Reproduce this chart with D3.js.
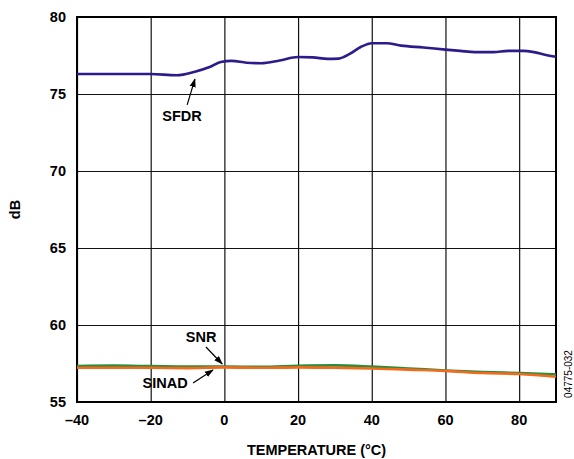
<!DOCTYPE html>
<html>
<head>
<meta charset="utf-8">
<script src="https://cdn.jsdelivr.net/npm/d3@7"></script>
<style>
  body { margin: 0; background: #fff; }
  svg text { font-family: "Liberation Sans", Arial, sans-serif; }
</style>
</head>
<body>
<div id="chart"></div>
<script>
// temperature (°C) -> dB
const sfdrTemp = [-40, -30, -20, -13, -8, -4, -1, 2, 6, 10, 15, 20, 24, 28, 31, 34, 37, 40, 44, 48, 54, 60, 64, 68, 73, 77, 81, 84, 87, 90];
const sfdrDb   = [76.3, 76.3, 76.3, 76.22, 76.45, 76.75, 77.08, 77.15, 77.03, 77.0, 77.18, 77.4, 77.38, 77.28, 77.3, 77.6, 78.05, 78.3, 78.3, 78.14, 78.02, 77.88, 77.8, 77.72, 77.72, 77.8, 77.8, 77.72, 77.55, 77.42];

const lowTemp = [-40, -30, -20, -10, 0, 10, 20, 30, 40, 50, 60, 70, 80, 90];
const snrDb   = [57.33, 57.36, 57.33, 57.3, 57.3, 57.28, 57.35, 57.38, 57.3, 57.18, 57.05, 56.95, 56.88, 56.8];
const sinadDb = [57.22, 57.22, 57.22, 57.2, 57.25, 57.22, 57.25, 57.22, 57.18, 57.1, 57.02, 56.88, 56.82, 56.64];

const xTicks = [-40, -20, 0, 20, 40, 60, 80];
const yTicks = [55, 60, 65, 70, 75, 80];

// callouts: label position and arrow from/to, in data units
const callouts = [
  { text: "SFDR",  tx: -11.5, ty: 73.25, from: [-10.1, 74.29], to: [-8.0, 75.97] },
  { text: "SNR",   tx: -6.3,  ty: 58.9,  from: [-5.0, 58.57],  to: [-0.6, 57.47] },
  { text: "SINAD", tx: -16.1, ty: 55.9,  from: [-8.5, 56.23],  to: [-3.1, 57.08] }
];

const W = 574, H = 459;
const m = { top: 17, right: 18, bottom: 57, left: 77 };

const svg = d3.select("#chart").append("svg")
  .attr("width", W).attr("height", H);

const x = d3.scaleLinear().domain([-40, 90]).range([m.left, W - m.right]);
const y = d3.scaleLinear().domain([55, 80]).range([H - m.bottom, m.top]);

const defs = svg.append("defs");
defs.append("marker")
  .attr("id", "arr").attr("viewBox", "0 0 10 10")
  .attr("refX", 9).attr("refY", 5)
  .attr("markerWidth", 9).attr("markerHeight", 9)
  .attr("markerUnits", "userSpaceOnUse")
  .attr("orient", "auto")
  .append("path").attr("d", "M0,1.5 L10,5 L0,8.5 Z").attr("fill", "#000");

// grid
svg.append("g")
  .attr("transform", `translate(0,${H - m.bottom})`)
  .call(d3.axisBottom(x).tickValues(xTicks).tickSize(-(H - m.top - m.bottom)).tickFormat(""))
  .call(g => g.select(".domain").remove())
  .call(g => g.selectAll("line").attr("stroke", "#111").attr("stroke-width", 1.2));

svg.append("g")
  .attr("transform", `translate(${m.left},0)`)
  .call(d3.axisLeft(y).tickValues(yTicks).tickSize(-(W - m.left - m.right)).tickFormat(""))
  .call(g => g.select(".domain").remove())
  .call(g => g.selectAll("line").attr("stroke", "#111").attr("stroke-width", 1.2));

// tick labels
svg.append("g").selectAll("text").data(xTicks).join("text")
  .attr("x", d => x(d)).attr("y", H - m.bottom + 23)
  .attr("text-anchor", "middle")
  .attr("font-size", 14.5).attr("font-weight", "bold")
  .text(d => d < 0 ? "\u2013" + Math.abs(d) : d);

svg.append("g").selectAll("text").data(yTicks).join("text")
  .attr("x", m.left - 11).attr("y", d => y(d)).attr("dy", "0.36em")
  .attr("text-anchor", "end")
  .attr("font-size", 14.5).attr("font-weight", "bold")
  .text(d => d);

// frame
svg.append("rect")
  .attr("x", m.left).attr("y", m.top)
  .attr("width", W - m.left - m.right).attr("height", H - m.top - m.bottom)
  .attr("fill", "none").attr("stroke", "#000").attr("stroke-width", 2);

const line = d3.line().curve(d3.curveMonotoneX);

svg.append("path")
  .attr("d", line(sfdrTemp.map((t, i) => [x(t), y(sfdrDb[i])])))
  .attr("fill", "none").attr("stroke", "#2e1a8a").attr("stroke-width", 2.6);

svg.append("path")
  .attr("d", line(lowTemp.map((t, i) => [x(t), y(snrDb[i])])))
  .attr("fill", "none").attr("stroke", "#2b8c3c").attr("stroke-width", 2.6);

svg.append("path")
  .attr("d", line(lowTemp.map((t, i) => [x(t), y(sinadDb[i])])))
  .attr("fill", "none").attr("stroke", "#f26b1d").attr("stroke-width", 2.6);

// callouts
const cg = svg.append("g");
cg.selectAll("line").data(callouts).join("line")
  .attr("x1", d => x(d.from[0])).attr("y1", d => y(d.from[1]))
  .attr("x2", d => x(d.to[0])).attr("y2", d => y(d.to[1]))
  .attr("stroke", "#000").attr("stroke-width", 1.2)
  .attr("marker-end", "url(#arr)");
cg.selectAll("text").data(callouts).join("text")
  .attr("x", d => x(d.tx)).attr("y", d => y(d.ty))
  .attr("text-anchor", "middle")
  .attr("font-size", 14.5).attr("font-weight", "bold")
  .text(d => d.text);

// axis titles
svg.append("text")
  .attr("x", (m.left + W - m.right) / 2).attr("y", H - 4)
  .attr("text-anchor", "middle")
  .attr("font-size", 14.5).attr("font-weight", "bold")
  .text("TEMPERATURE (\u00B0C)");

svg.append("text")
  .attr("transform", `translate(20,${(m.top + H - m.bottom) / 2}) rotate(-90)`)
  .attr("text-anchor", "middle")
  .attr("font-size", 14.5).attr("font-weight", "bold")
  .text("dB");

svg.append("text")
  .attr("transform", `translate(572,374) rotate(-90)`)
  .attr("text-anchor", "middle")
  .attr("font-size", 10)
  .text("04775-032");
</script>
</body>
</html>
